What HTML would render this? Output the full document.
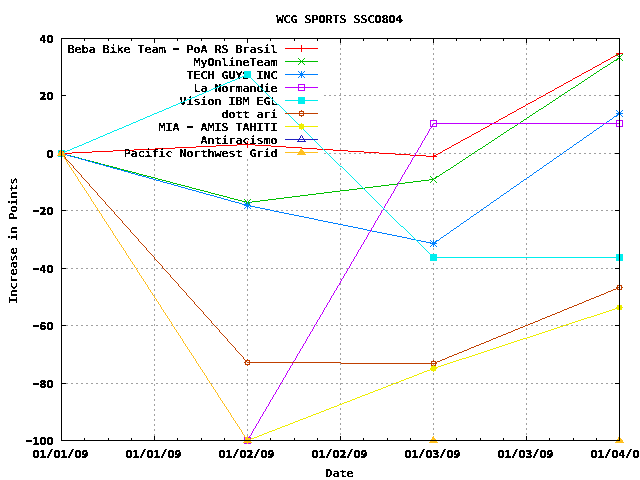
<!DOCTYPE html>
<html lang="en"><head><meta charset="utf-8"><title>WCG SPORTS SSC0804</title>
<style>
html,body{margin:0;padding:0;background:#fff;overflow:hidden}
svg{display:block}
text{font-family:"DejaVu Sans Mono", "Liberation Mono", monospace;font-size:12.5px;font-weight:bold;letter-spacing:-0.526px;fill:#000;white-space:pre}
.n{font-family:"DejaVu Sans Condensed","Liberation Sans Narrow","Liberation Sans",sans-serif;font-size:11px;letter-spacing:0;stroke:#000;stroke-width:.3px}
.ns{font-family:"DejaVu Sans Mono", "Liberation Mono", monospace;font-size:11.2px;stroke-width:.7px}
.nh{font-family:"DejaVu Sans Mono", "Liberation Mono", monospace;font-weight:normal;font-size:23px;stroke:none}
.td{font-family:"DejaVu Sans Condensed","Liberation Sans Narrow","Liberation Sans",sans-serif;font-size:11.8px;stroke:#000;stroke-width:.2px}
.ce{shape-rendering:crispEdges}
</style></head><body>
<svg width="640" height="480" viewBox="0 0 640 480">
<defs><filter id="th" x="0" y="0" width="100%" height="100%" filterUnits="userSpaceOnUse" color-interpolation-filters="sRGB"><feComponentTransfer><feFuncA type="discrete" tableValues="0 1"/></feComponentTransfer></filter></defs>
<rect width="640" height="480" fill="#fff"/>
<g class="ce"><path d="M324 95.5H620M324 153.5H620M61 210.5H620M61 268.5H620M61 325.5H620M61 383.5H620M154.5 159V441M247.5 159V441M340.5 38V441M433.5 38V441M526.5 38V441" stroke="#a0a0a0" stroke-width="1" stroke-dasharray="2 3" fill="none"/></g>
<g class="ce" fill="#000"><rect x="61" y="38" width="5" height="1" fill="#000"/><rect x="615" y="38" width="5" height="1" fill="#000"/><rect x="61" y="95" width="5" height="1" fill="#000"/><rect x="615" y="95" width="5" height="1" fill="#000"/><rect x="61" y="153" width="5" height="1" fill="#000"/><rect x="615" y="153" width="5" height="1" fill="#000"/><rect x="61" y="210" width="5" height="1" fill="#000"/><rect x="615" y="210" width="5" height="1" fill="#000"/><rect x="61" y="268" width="5" height="1" fill="#000"/><rect x="615" y="268" width="5" height="1" fill="#000"/><rect x="61" y="325" width="5" height="1" fill="#000"/><rect x="615" y="325" width="5" height="1" fill="#000"/><rect x="61" y="383" width="5" height="1" fill="#000"/><rect x="615" y="383" width="5" height="1" fill="#000"/><rect x="61" y="440" width="5" height="1" fill="#000"/><rect x="615" y="440" width="5" height="1" fill="#000"/><rect x="61" y="38" width="1" height="5" fill="#000"/><rect x="61" y="436" width="1" height="5" fill="#000"/><rect x="84" y="38" width="1" height="3" fill="#000"/><rect x="84" y="438" width="1" height="3" fill="#000"/><rect x="108" y="38" width="1" height="3" fill="#000"/><rect x="108" y="438" width="1" height="3" fill="#000"/><rect x="131" y="38" width="1" height="3" fill="#000"/><rect x="131" y="438" width="1" height="3" fill="#000"/><rect x="154" y="38" width="1" height="5" fill="#000"/><rect x="154" y="436" width="1" height="5" fill="#000"/><rect x="177" y="38" width="1" height="3" fill="#000"/><rect x="177" y="438" width="1" height="3" fill="#000"/><rect x="201" y="38" width="1" height="3" fill="#000"/><rect x="201" y="438" width="1" height="3" fill="#000"/><rect x="224" y="38" width="1" height="3" fill="#000"/><rect x="224" y="438" width="1" height="3" fill="#000"/><rect x="247" y="38" width="1" height="5" fill="#000"/><rect x="247" y="436" width="1" height="5" fill="#000"/><rect x="270" y="38" width="1" height="3" fill="#000"/><rect x="270" y="438" width="1" height="3" fill="#000"/><rect x="294" y="38" width="1" height="3" fill="#000"/><rect x="294" y="438" width="1" height="3" fill="#000"/><rect x="317" y="38" width="1" height="3" fill="#000"/><rect x="317" y="438" width="1" height="3" fill="#000"/><rect x="340" y="38" width="1" height="5" fill="#000"/><rect x="340" y="436" width="1" height="5" fill="#000"/><rect x="363" y="38" width="1" height="3" fill="#000"/><rect x="363" y="438" width="1" height="3" fill="#000"/><rect x="387" y="38" width="1" height="3" fill="#000"/><rect x="387" y="438" width="1" height="3" fill="#000"/><rect x="410" y="38" width="1" height="3" fill="#000"/><rect x="410" y="438" width="1" height="3" fill="#000"/><rect x="433" y="38" width="1" height="5" fill="#000"/><rect x="433" y="436" width="1" height="5" fill="#000"/><rect x="456" y="38" width="1" height="3" fill="#000"/><rect x="456" y="438" width="1" height="3" fill="#000"/><rect x="480" y="38" width="1" height="3" fill="#000"/><rect x="480" y="438" width="1" height="3" fill="#000"/><rect x="503" y="38" width="1" height="3" fill="#000"/><rect x="503" y="438" width="1" height="3" fill="#000"/><rect x="526" y="38" width="1" height="5" fill="#000"/><rect x="526" y="436" width="1" height="5" fill="#000"/><rect x="549" y="38" width="1" height="3" fill="#000"/><rect x="549" y="438" width="1" height="3" fill="#000"/><rect x="573" y="38" width="1" height="3" fill="#000"/><rect x="573" y="438" width="1" height="3" fill="#000"/><rect x="596" y="38" width="1" height="3" fill="#000"/><rect x="596" y="438" width="1" height="3" fill="#000"/><rect x="619" y="38" width="1" height="5" fill="#000"/><rect x="619" y="436" width="1" height="5" fill="#000"/></g>
<g><g filter="url(#th)"><text x="277.3" y="60.23" text-anchor="end" transform="scale(1 0.88)">Beba Bike Team <tspan dx="-2.02" dy="0.21" style="font-size:18.5px;letter-spacing:-4.14px">-</tspan><tspan dx="2.02" dy="-0.21"> PoA RS Brasil</tspan></text></g><g class="ce"><rect x="285" y="48" width="33" height="1" fill="#ff0000"/><rect x="298" y="48" width="7" height="1" fill="#ff0000"/><rect x="301" y="45" width="1" height="7" fill="#ff0000"/><path d="M61 153.5h11m0 -1h20m0 -1h21m0 -1h21m0 -1h21m0 -1h20m0 -1h21m0 -1h20m0 -1h21m0 -1h11M247 144.5h8m0 1h16m0 1h15m0 1h16m0 1h15m0 1h16m0 1h15m0 1h16m0 1h15m0 1h16m0 1h15m0 1h16m0 1h8M433 156.5h1m0 -1h2m0 -1h2m0 -1h2m0 -1h2m0 -1h1m0 -1h2m0 -1h2m0 -1h2m0 -1h2m0 -1h1m0 -1h2m0 -1h2m0 -1h2m0 -1h2m0 -1h1m0 -1h2m0 -1h2m0 -1h2m0 -1h2m0 -1h2m0 -1h1m0 -1h2m0 -1h2m0 -1h2m0 -1h2m0 -1h1m0 -1h2m0 -1h2m0 -1h2m0 -1h2m0 -1h1m0 -1h2m0 -1h2m0 -1h2m0 -1h2m0 -1h1m0 -1h2m0 -1h2m0 -1h2m0 -1h2m0 -1h1m0 -1h2m0 -1h2m0 -1h2m0 -1h2m0 -1h1m0 -1h2m0 -1h2m0 -1h2m0 -1h2m0 -1h1m0 -1h2m0 -1h2m0 -1h2m0 -1h2m0 -1h2m0 -1h1m0 -1h2m0 -1h2m0 -1h2m0 -1h2m0 -1h1m0 -1h2m0 -1h2m0 -1h2m0 -1h2m0 -1h1m0 -1h2m0 -1h2m0 -1h2m0 -1h2m0 -1h1m0 -1h2m0 -1h2m0 -1h2m0 -1h2m0 -1h1m0 -1h2m0 -1h2m0 -1h2m0 -1h2m0 -1h1m0 -1h2m0 -1h2m0 -1h2m0 -1h2m0 -1h2m0 -1h1m0 -1h2m0 -1h2m0 -1h2m0 -1h2m0 -1h1m0 -1h2m0 -1h2m0 -1h2m0 -1h2m0 -1h1m0 -1h2m0 -1h2m0 -1h2m0 -1h2m0 -1h1" stroke="#ff0000" stroke-width="1" fill="none"/><rect x="58" y="153" width="7" height="1" fill="#ff0000"/><rect x="61" y="150" width="1" height="7" fill="#ff0000"/><rect x="244" y="144" width="7" height="1" fill="#ff0000"/><rect x="247" y="141" width="1" height="7" fill="#ff0000"/><rect x="430" y="156" width="7" height="1" fill="#ff0000"/><rect x="433" y="153" width="1" height="7" fill="#ff0000"/><rect x="616" y="53" width="7" height="1" fill="#ff0000"/><rect x="619" y="50" width="1" height="7" fill="#ff0000"/></g></g>
<g><g filter="url(#th)"><text x="277.3" y="75" text-anchor="end" transform="scale(1 0.88)">MyOnlineTeam</text></g><g class="ce"><rect x="285" y="61" width="33" height="1" fill="#00c000"/><path d="M298.0 58.0L305.0 65.0M298.0 65.0L305.0 58.0" stroke="#00c000" stroke-width="1" fill="none"/><path d="M61 153.5h2m0 1h4m0 1h4m0 1h4m0 1h4m0 1h3m0 1h4m0 1h4m0 1h4m0 1h4m0 1h3m0 1h4m0 1h4m0 1h4m0 1h4m0 1h3m0 1h4m0 1h4m0 1h4m0 1h4m0 1h3m0 1h4m0 1h4m0 1h4m0 1h4m0 1h3m0 1h4m0 1h4m0 1h4m0 1h3m0 1h4m0 1h4m0 1h4m0 1h4m0 1h3m0 1h4m0 1h4m0 1h4m0 1h4m0 1h3m0 1h4m0 1h4m0 1h4m0 1h4m0 1h3m0 1h4m0 1h4m0 1h4m0 1h4m0 1h2M247 202.5h5m0 -1h8m0 -1h8m0 -1h8m0 -1h8m0 -1h8m0 -1h8m0 -1h8m0 -1h8m0 -1h8m0 -1h8m0 -1h8m0 -1h9m0 -1h8m0 -1h8m0 -1h8m0 -1h8m0 -1h8m0 -1h8m0 -1h8m0 -1h8m0 -1h8m0 -1h8m0 -1h5M433 179.5h1m0 -1h2m0 -1h1m0 -1h2m0 -1h1m0 -1h2m0 -1h1m0 -1h2m0 -1h1m0 -1h2m0 -1h2m0 -1h1m0 -1h2m0 -1h1m0 -1h2m0 -1h1m0 -1h2m0 -1h1m0 -1h2m0 -1h1m0 -1h2m0 -1h1m0 -1h2m0 -1h1m0 -1h2m0 -1h1m0 -1h2m0 -1h1m0 -1h2m0 -1h1m0 -1h2m0 -1h2m0 -1h1m0 -1h2m0 -1h1m0 -1h2m0 -1h1m0 -1h2m0 -1h1m0 -1h2m0 -1h1m0 -1h2m0 -1h1m0 -1h2m0 -1h1m0 -1h2m0 -1h1m0 -1h2m0 -1h1m0 -1h2m0 -1h1m0 -1h2m0 -1h2m0 -1h1m0 -1h2m0 -1h1m0 -1h2m0 -1h1m0 -1h2m0 -1h1m0 -1h2m0 -1h1m0 -1h2m0 -1h1m0 -1h2m0 -1h1m0 -1h2m0 -1h1m0 -1h2m0 -1h1m0 -1h2m0 -1h2m0 -1h1m0 -1h2m0 -1h1m0 -1h2m0 -1h1m0 -1h2m0 -1h1m0 -1h2m0 -1h1m0 -1h2m0 -1h1m0 -1h2m0 -1h1m0 -1h2m0 -1h1m0 -1h2m0 -1h1m0 -1h2m0 -1h1m0 -1h2m0 -1h2m0 -1h1m0 -1h2m0 -1h1m0 -1h2m0 -1h1m0 -1h2m0 -1h1m0 -1h2m0 -1h1m0 -1h2m0 -1h1m0 -1h2m0 -1h1m0 -1h2m0 -1h1m0 -1h2m0 -1h1m0 -1h2m0 -1h1m0 -1h2m0 -1h2m0 -1h1m0 -1h2m0 -1h1m0 -1h2m0 -1h1m0 -1h2m0 -1h1m0 -1h2m0 -1h1" stroke="#00c000" stroke-width="1" fill="none"/><path d="M58.0 150.0L65.0 157.0M58.0 157.0L65.0 150.0" stroke="#00c000" stroke-width="1" fill="none"/><path d="M244.0 199.0L251.0 206.0M244.0 206.0L251.0 199.0" stroke="#00c000" stroke-width="1" fill="none"/><path d="M430.0 176.0L437.0 183.0M430.0 183.0L437.0 176.0" stroke="#00c000" stroke-width="1" fill="none"/><path d="M616.0 54.0L623.0 61.0M616.0 61.0L623.0 54.0" stroke="#00c000" stroke-width="1" fill="none"/></g></g>
<g><g filter="url(#th)"><text x="277.3" y="89.77" text-anchor="end" transform="scale(1 0.88)">TECH GUYS INC</text></g><g class="ce"><rect x="285" y="74" width="33" height="1" fill="#0080ff"/><rect x="298" y="74" width="7" height="1" fill="#0080ff"/><rect x="301" y="71" width="1" height="7" fill="#0080ff"/><path d="M298.0 71.0L305.0 78.0M298.0 78.0L305.0 71.0" stroke="#0080ff" stroke-width="1" fill="none"/><path d="M61 153.5h2m0 1h4m0 1h3m0 1h4m0 1h4m0 1h3m0 1h4m0 1h3m0 1h4m0 1h3m0 1h4m0 1h4m0 1h3m0 1h4m0 1h3m0 1h4m0 1h4m0 1h3m0 1h4m0 1h3m0 1h4m0 1h3m0 1h4m0 1h4m0 1h3m0 1h4m0 1h3m0 1h4m0 1h3m0 1h4m0 1h4m0 1h3m0 1h4m0 1h3m0 1h4m0 1h3m0 1h4m0 1h4m0 1h3m0 1h4m0 1h3m0 1h4m0 1h4m0 1h3m0 1h4m0 1h3m0 1h4m0 1h3m0 1h4m0 1h4m0 1h3m0 1h4m0 1h2M247 205.5h3m0 1h5m0 1h5m0 1h5m0 1h5m0 1h4m0 1h5m0 1h5m0 1h5m0 1h5m0 1h5m0 1h5m0 1h5m0 1h5m0 1h4m0 1h5m0 1h5m0 1h5m0 1h5m0 1h5m0 1h5m0 1h5m0 1h5m0 1h5m0 1h4m0 1h5m0 1h5m0 1h5m0 1h5m0 1h5m0 1h5m0 1h5m0 1h5m0 1h4m0 1h5m0 1h5m0 1h5m0 1h5m0 1h3M433 243.5h1m0 -1h2m0 -1h1m0 -1h2m0 -1h1m0 -1h1m0 -1h2m0 -1h1m0 -1h2m0 -1h1m0 -1h2m0 -1h1m0 -1h1m0 -1h2m0 -1h1m0 -1h2m0 -1h1m0 -1h2m0 -1h1m0 -1h1m0 -1h2m0 -1h1m0 -1h2m0 -1h1m0 -1h2m0 -1h1m0 -1h1m0 -1h2m0 -1h1m0 -1h2m0 -1h1m0 -1h2m0 -1h1m0 -1h1m0 -1h2m0 -1h1m0 -1h2m0 -1h1m0 -1h2m0 -1h1m0 -1h1m0 -1h2m0 -1h1m0 -1h2m0 -1h1m0 -1h2m0 -1h1m0 -1h1m0 -1h2m0 -1h1m0 -1h2m0 -1h1m0 -1h2m0 -1h1m0 -1h1m0 -1h2m0 -1h1m0 -1h2m0 -1h1m0 -1h2m0 -1h1m0 -1h1m0 -1h2m0 -1h1m0 -1h2m0 -1h1m0 -1h2m0 -1h1m0 -1h2m0 -1h1m0 -1h1m0 -1h2m0 -1h1m0 -1h2m0 -1h1m0 -1h2m0 -1h1m0 -1h1m0 -1h2m0 -1h1m0 -1h2m0 -1h1m0 -1h2m0 -1h1m0 -1h1m0 -1h2m0 -1h1m0 -1h2m0 -1h1m0 -1h2m0 -1h1m0 -1h1m0 -1h2m0 -1h1m0 -1h2m0 -1h1m0 -1h2m0 -1h1m0 -1h1m0 -1h2m0 -1h1m0 -1h2m0 -1h1m0 -1h2m0 -1h1m0 -1h1m0 -1h2m0 -1h1m0 -1h2m0 -1h1m0 -1h2m0 -1h1m0 -1h1m0 -1h2m0 -1h1m0 -1h2m0 -1h1m0 -1h2m0 -1h1m0 -1h1m0 -1h2m0 -1h1m0 -1h2m0 -1h1m0 -1h2m0 -1h1m0 -1h1m0 -1h2m0 -1h1m0 -1h2m0 -1h1" stroke="#0080ff" stroke-width="1" fill="none"/><rect x="58" y="153" width="7" height="1" fill="#0080ff"/><rect x="61" y="150" width="1" height="7" fill="#0080ff"/><path d="M58.0 150.0L65.0 157.0M58.0 157.0L65.0 150.0" stroke="#0080ff" stroke-width="1" fill="none"/><rect x="244" y="205" width="7" height="1" fill="#0080ff"/><rect x="247" y="202" width="1" height="7" fill="#0080ff"/><path d="M244.0 202.0L251.0 209.0M244.0 209.0L251.0 202.0" stroke="#0080ff" stroke-width="1" fill="none"/><rect x="430" y="243" width="7" height="1" fill="#0080ff"/><rect x="433" y="240" width="1" height="7" fill="#0080ff"/><path d="M430.0 240.0L437.0 247.0M430.0 247.0L437.0 240.0" stroke="#0080ff" stroke-width="1" fill="none"/><rect x="616" y="113" width="7" height="1" fill="#0080ff"/><rect x="619" y="110" width="1" height="7" fill="#0080ff"/><path d="M616.0 110.0L623.0 117.0M616.0 117.0L623.0 110.0" stroke="#0080ff" stroke-width="1" fill="none"/></g></g>
<g><g filter="url(#th)"><text x="277.3" y="104.55" text-anchor="end" transform="scale(1 0.88)">La Normandie</text></g><g class="ce"><rect x="285" y="87" width="33" height="1" fill="#c000ff"/><rect x="298.5" y="84.5" width="6" height="6" fill="none" stroke="#c000ff" stroke-width="1"/><path d="M433.5 123v1m-1 0v2m-1 0v2m-1 0v1m-1 0v2m-1 0v2m-1 0v2m-1 0v1m-1 0v2m-1 0v2m-1 0v1m-1 0v2m-1 0v2m-1 0v2m-1 0v1m-1 0v2m-1 0v2m-1 0v1m-1 0v2m-1 0v2m-1 0v1m-1 0v2m-1 0v2m-1 0v2m-1 0v1m-1 0v2m-1 0v2m-1 0v1m-1 0v2m-1 0v2m-1 0v1m-1 0v2m-1 0v2m-1 0v2m-1 0v1m-1 0v2m-1 0v2m-1 0v1m-1 0v2m-1 0v2m-1 0v2m-1 0v1m-1 0v2m-1 0v2m-1 0v1m-1 0v2m-1 0v2m-1 0v1m-1 0v2m-1 0v2m-1 0v2m-1 0v1m-1 0v2m-1 0v2m-1 0v1m-1 0v2m-1 0v2m-1 0v1m-1 0v2m-1 0v2m-1 0v2m-1 0v1m-1 0v2m-1 0v2m-1 0v1m-1 0v2m-1 0v2m-1 0v2m-1 0v1m-1 0v2m-1 0v2m-1 0v1m-1 0v2m-1 0v2m-1 0v1m-1 0v2m-1 0v2m-1 0v2m-1 0v1m-1 0v2m-1 0v2m-1 0v1m-1 0v2m-1 0v2m-1 0v2m-1 0v1m-1 0v2m-1 0v2m-1 0v1m-1 0v2m-1 0v2m-1 0v1m-1 0v2m-1 0v2m-1 0v2m-1 0v1m-1 0v2m-1 0v2m-1 0v1m-1 0v2m-1 0v2m-1 0v1m-1 0v2m-1 0v2m-1 0v2m-1 0v1m-1 0v2m-1 0v2m-1 0v1m-1 0v2m-1 0v2m-1 0v2m-1 0v1m-1 0v2m-1 0v2m-1 0v1m-1 0v2m-1 0v2m-1 0v1m-1 0v2m-1 0v2m-1 0v2m-1 0v1m-1 0v2m-1 0v2m-1 0v1m-1 0v2m-1 0v2m-1 0v2m-1 0v1m-1 0v2m-1 0v2m-1 0v1m-1 0v2m-1 0v2m-1 0v1m-1 0v2m-1 0v2m-1 0v2m-1 0v1m-1 0v2m-1 0v2m-1 0v1m-1 0v2m-1 0v2m-1 0v1m-1 0v2m-1 0v2m-1 0v2m-1 0v1m-1 0v2m-1 0v2m-1 0v1m-1 0v2m-1 0v2m-1 0v2m-1 0v1m-1 0v2m-1 0v2m-1 0v1m-1 0v2m-1 0v2m-1 0v1m-1 0v2m-1 0v2m-1 0v2m-1 0v1m-1 0v2m-1 0v2m-1 0v1m-1 0v2m-1 0v2m-1 0v1m-1 0v2m-1 0v2m-1 0v2m-1 0v1m-1 0v2m-1 0v2m-1 0v1m-1 0v2m-1 0v2m-1 0v2m-1 0v1m-1 0v2m-1 0v2m-1 0v1M433 123.5h187" stroke="#c000ff" stroke-width="1" fill="none"/><rect x="244.5" y="437.5" width="6" height="6" fill="none" stroke="#c000ff" stroke-width="1"/><rect x="430.5" y="120.5" width="6" height="6" fill="none" stroke="#c000ff" stroke-width="1"/><rect x="616.5" y="120.5" width="6" height="6" fill="none" stroke="#c000ff" stroke-width="1"/></g></g>
<g><g filter="url(#th)"><text x="277.3" y="119.32" text-anchor="end" transform="scale(1 0.88)">Vision IBM EGL</text></g><g class="ce"><rect x="285" y="100" width="33" height="1" fill="#00eeee"/><rect x="298" y="97" width="7" height="7" fill="#00eeee"/><path d="M61 153.5h2m0 -1h2m0 -1h2m0 -1h3m0 -1h2m0 -1h2m0 -1h3m0 -1h2m0 -1h3m0 -1h2m0 -1h2m0 -1h3m0 -1h2m0 -1h2m0 -1h3m0 -1h2m0 -1h2m0 -1h3m0 -1h2m0 -1h2m0 -1h3m0 -1h2m0 -1h2m0 -1h3m0 -1h2m0 -1h3m0 -1h2m0 -1h2m0 -1h3m0 -1h2m0 -1h2m0 -1h3m0 -1h2m0 -1h2m0 -1h3m0 -1h2m0 -1h2m0 -1h3m0 -1h2m0 -1h2m0 -1h3m0 -1h2m0 -1h3m0 -1h2m0 -1h2m0 -1h3m0 -1h2m0 -1h2m0 -1h3m0 -1h2m0 -1h2m0 -1h3m0 -1h2m0 -1h2m0 -1h3m0 -1h2m0 -1h3m0 -1h2m0 -1h2m0 -1h3m0 -1h2m0 -1h2m0 -1h3m0 -1h2m0 -1h2m0 -1h3m0 -1h2m0 -1h2m0 -1h3m0 -1h2m0 -1h2m0 -1h3m0 -1h2m0 -1h3m0 -1h2m0 -1h2m0 -1h3m0 -1h2m0 -1h2m0 -1h2M247 74.5h1m0 1h1m0 1h1m0 1h1m0 1h1m0 1h1m0 1h1m0 1h1m0 1h1m0 1h1m0 1h1m0 1h1m0 1h1m0 1h1m0 1h1m0 1h1m0 1h1m0 1h1m0 1h1m0 1h1m0 1h1m0 1h1m0 1h1m0 1h1m0 1h1m0 1h1m0 1h1m0 1h1m0 1h1m0 1h1m0 1h2m0 1h1m0 1h1m0 1h1m0 1h1m0 1h1m0 1h1m0 1h1m0 1h1m0 1h1m0 1h1m0 1h1m0 1h1m0 1h1m0 1h1m0 1h1m0 1h1m0 1h1m0 1h1m0 1h1m0 1h1m0 1h1m0 1h1m0 1h1m0 1h1m0 1h1m0 1h1m0 1h1m0 1h1m0 1h1m0 1h1m0 1h1m0 1h1m0 1h1m0 1h1m0 1h1m0 1h1m0 1h1m0 1h1m0 1h1m0 1h1m0 1h1m0 1h1m0 1h1m0 1h1m0 1h1m0 1h1m0 1h1m0 1h1m0 1h1m0 1h1m0 1h1m0 1h1m0 1h1m0 1h1m0 1h1m0 1h1m0 1h1m0 1h1m0 1h1m0 1h1m0 1h1m0 1h2m0 1h1m0 1h1m0 1h1m0 1h1m0 1h1m0 1h1m0 1h1m0 1h1m0 1h1m0 1h1m0 1h1m0 1h1m0 1h1m0 1h1m0 1h1m0 1h1m0 1h1m0 1h1m0 1h1m0 1h1m0 1h1m0 1h1m0 1h1m0 1h1m0 1h1m0 1h1m0 1h1m0 1h1m0 1h1m0 1h1m0 1h1m0 1h1m0 1h1m0 1h1m0 1h1m0 1h1m0 1h1m0 1h1m0 1h1m0 1h1m0 1h1m0 1h1m0 1h1m0 1h1m0 1h1m0 1h1m0 1h1m0 1h1m0 1h1m0 1h1m0 1h1m0 1h1m0 1h1m0 1h1m0 1h1m0 1h1m0 1h1m0 1h1m0 1h1m0 1h2m0 1h1m0 1h1m0 1h1m0 1h1m0 1h1m0 1h1m0 1h1m0 1h1m0 1h1m0 1h1m0 1h1m0 1h1m0 1h1m0 1h1m0 1h1m0 1h1m0 1h1m0 1h1m0 1h1m0 1h1m0 1h1m0 1h1m0 1h1m0 1h1m0 1h1m0 1h1m0 1h1m0 1h1m0 1h1m0 1h1m0 1h1M433 257.5h187" stroke="#00eeee" stroke-width="1" fill="none"/><rect x="58" y="150" width="7" height="7" fill="#00eeee"/><rect x="244" y="71" width="7" height="7" fill="#00eeee"/><rect x="430" y="254" width="7" height="7" fill="#00eeee"/><rect x="616" y="254" width="7" height="7" fill="#00eeee"/></g></g>
<g><g filter="url(#th)"><text x="277.3" y="134.09" text-anchor="end" transform="scale(1 0.88)">dott ari</text></g><g class="ce"><rect x="285" y="113" width="33" height="1" fill="#c04000"/><rect x="299.5" y="111.5" width="4" height="4" fill="none" stroke="#c04000" stroke-width="1"/><path d="M301 110h1v1h-1zM301 116h1v1h-1zM298 113h1v1h-1zM304 113h1v1h-1z" fill="#c04000"/><path d="M61.5 153v1m1 0v1m1 0v1m1 0v1m1 0v2m1 0v1m1 0v1m1 0v1m1 0v1m1 0v1m1 0v1m1 0v1m1 0v2m1 0v1m1 0v1m1 0v1m1 0v1m1 0v1m1 0v1m1 0v1m1 0v2m1 0v1m1 0v1m1 0v1m1 0v1m1 0v1m1 0v1m1 0v1m1 0v2m1 0v1m1 0v1m1 0v1m1 0v1m1 0v1m1 0v1m1 0v1m1 0v2m1 0v1m1 0v1m1 0v1m1 0v1m1 0v1m1 0v1m1 0v1m1 0v2m1 0v1m1 0v1m1 0v1m1 0v1m1 0v1m1 0v1m1 0v1m1 0v1m1 0v2m1 0v1m1 0v1m1 0v1m1 0v1m1 0v1m1 0v1m1 0v1m1 0v2m1 0v1m1 0v1m1 0v1m1 0v1m1 0v1m1 0v1m1 0v1m1 0v2m1 0v1m1 0v1m1 0v1m1 0v1m1 0v1m1 0v1m1 0v1m1 0v2m1 0v1m1 0v1m1 0v1m1 0v1m1 0v1m1 0v1m1 0v1m1 0v2m1 0v1m1 0v1m1 0v1m1 0v1m1 0v1m1 0v1m1 0v1m1 0v2m1 0v1m1 0v1m1 0v1m1 0v1m1 0v1m1 0v1m1 0v1m1 0v2m1 0v1m1 0v1m1 0v1m1 0v1m1 0v1m1 0v1m1 0v1m1 0v2m1 0v1m1 0v1m1 0v1m1 0v1m1 0v1m1 0v1m1 0v1m1 0v2m1 0v1m1 0v1m1 0v1m1 0v1m1 0v1m1 0v1m1 0v1m1 0v2m1 0v1m1 0v1m1 0v1m1 0v1m1 0v1m1 0v1m1 0v1m1 0v2m1 0v1m1 0v1m1 0v1m1 0v1m1 0v1m1 0v1m1 0v1m1 0v1m1 0v2m1 0v1m1 0v1m1 0v1m1 0v1m1 0v1m1 0v1m1 0v1m1 0v2m1 0v1m1 0v1m1 0v1m1 0v1m1 0v1m1 0v1m1 0v1m1 0v2m1 0v1m1 0v1m1 0v1m1 0v1m1 0v1m1 0v1m1 0v1m1 0v2m1 0v1m1 0v1m1 0v1m1 0v1m1 0v1m1 0v1m1 0v1m1 0v2m1 0v1m1 0v1m1 0v1m1 0v1m1 0v1m1 0v1m1 0v1m1 0v2m1 0v1m1 0v1m1 0v1m1 0v1M247 362.5h94m0 1h93M433 363.5h2m0 -1h2m0 -1h3m0 -1h2m0 -1h3m0 -1h2m0 -1h2m0 -1h3m0 -1h2m0 -1h3m0 -1h2m0 -1h3m0 -1h2m0 -1h3m0 -1h2m0 -1h2m0 -1h3m0 -1h2m0 -1h3m0 -1h2m0 -1h3m0 -1h2m0 -1h3m0 -1h2m0 -1h2m0 -1h3m0 -1h2m0 -1h3m0 -1h2m0 -1h3m0 -1h2m0 -1h3m0 -1h2m0 -1h2m0 -1h3m0 -1h2m0 -1h3m0 -1h2m0 -1h3m0 -1h2m0 -1h3m0 -1h2m0 -1h3m0 -1h2m0 -1h2m0 -1h3m0 -1h2m0 -1h3m0 -1h2m0 -1h3m0 -1h2m0 -1h3m0 -1h2m0 -1h2m0 -1h3m0 -1h2m0 -1h3m0 -1h2m0 -1h3m0 -1h2m0 -1h3m0 -1h2m0 -1h2m0 -1h3m0 -1h2m0 -1h3m0 -1h2m0 -1h3m0 -1h2m0 -1h3m0 -1h2m0 -1h2m0 -1h3m0 -1h2m0 -1h3m0 -1h2m0 -1h2" stroke="#c04000" stroke-width="1" fill="none"/><rect x="59.5" y="151.5" width="4" height="4" fill="none" stroke="#c04000" stroke-width="1"/><path d="M61 150h1v1h-1zM61 156h1v1h-1zM58 153h1v1h-1zM64 153h1v1h-1z" fill="#c04000"/><rect x="245.5" y="360.5" width="4" height="4" fill="none" stroke="#c04000" stroke-width="1"/><path d="M247 359h1v1h-1zM247 365h1v1h-1zM244 362h1v1h-1zM250 362h1v1h-1z" fill="#c04000"/><rect x="431.5" y="361.5" width="4" height="4" fill="none" stroke="#c04000" stroke-width="1"/><path d="M433 360h1v1h-1zM433 366h1v1h-1zM430 363h1v1h-1zM436 363h1v1h-1z" fill="#c04000"/><rect x="617.5" y="285.5" width="4" height="4" fill="none" stroke="#c04000" stroke-width="1"/><path d="M619 284h1v1h-1zM619 290h1v1h-1zM616 287h1v1h-1zM622 287h1v1h-1z" fill="#c04000"/></g></g>
<g><g filter="url(#th)"><text x="277.3" y="148.86" text-anchor="end" transform="scale(1 0.88)">MIA <tspan dx="-2.02" dy="0.21" style="font-size:18.5px;letter-spacing:-4.14px">-</tspan><tspan dx="2.02" dy="-0.21"> AMIS TAHITI</tspan></text></g><g class="ce"><rect x="285" y="126" width="33" height="1" fill="#eeee00"/><rect x="299" y="124" width="5" height="5" fill="#eeee00"/><path d="M301 123h1v7h-1zM298 126h7v1h-7z" fill="#eeee00"/><path d="M247 440.5h2m0 -1h2m0 -1h3m0 -1h3m0 -1h2m0 -1h3m0 -1h2m0 -1h3m0 -1h2m0 -1h3m0 -1h3m0 -1h2m0 -1h3m0 -1h2m0 -1h3m0 -1h3m0 -1h2m0 -1h3m0 -1h2m0 -1h3m0 -1h2m0 -1h3m0 -1h3m0 -1h2m0 -1h3m0 -1h2m0 -1h3m0 -1h3m0 -1h2m0 -1h3m0 -1h2m0 -1h3m0 -1h2m0 -1h3m0 -1h3m0 -1h2m0 -1h3m0 -1h2m0 -1h3m0 -1h3m0 -1h2m0 -1h3m0 -1h2m0 -1h3m0 -1h2m0 -1h3m0 -1h3m0 -1h2m0 -1h3m0 -1h2m0 -1h3m0 -1h3m0 -1h2m0 -1h3m0 -1h2m0 -1h3m0 -1h2m0 -1h3m0 -1h3m0 -1h2m0 -1h3m0 -1h2m0 -1h3m0 -1h3m0 -1h2m0 -1h3m0 -1h2m0 -1h3m0 -1h2m0 -1h3m0 -1h3m0 -1h2m0 -1h2M433 368.5h2m0 -1h3m0 -1h3m0 -1h3m0 -1h3m0 -1h3m0 -1h3m0 -1h3m0 -1h3m0 -1h3m0 -1h4m0 -1h3m0 -1h3m0 -1h3m0 -1h3m0 -1h3m0 -1h3m0 -1h3m0 -1h3m0 -1h3m0 -1h3m0 -1h3m0 -1h3m0 -1h3m0 -1h3m0 -1h3m0 -1h3m0 -1h3m0 -1h3m0 -1h3m0 -1h4m0 -1h3m0 -1h3m0 -1h3m0 -1h3m0 -1h3m0 -1h3m0 -1h3m0 -1h3m0 -1h3m0 -1h3m0 -1h3m0 -1h3m0 -1h3m0 -1h3m0 -1h3m0 -1h3m0 -1h3m0 -1h3m0 -1h3m0 -1h3m0 -1h4m0 -1h3m0 -1h3m0 -1h3m0 -1h3m0 -1h3m0 -1h3m0 -1h3m0 -1h3m0 -1h3m0 -1h2" stroke="#eeee00" stroke-width="1" fill="none"/><rect x="245" y="438" width="5" height="5" fill="#eeee00"/><path d="M247 437h1v7h-1zM244 440h7v1h-7z" fill="#eeee00"/><rect x="431" y="366" width="5" height="5" fill="#eeee00"/><path d="M433 365h1v7h-1zM430 368h7v1h-7z" fill="#eeee00"/><rect x="617" y="305" width="5" height="5" fill="#eeee00"/><path d="M619 304h1v7h-1zM616 307h7v1h-7z" fill="#eeee00"/></g></g>
<g><g filter="url(#th)"><text x="277.3" y="163.64" text-anchor="end" transform="scale(1 0.88)">Antiracismo</text></g><g class="ce"><rect x="285" y="139" width="33" height="1" fill="#2020c0"/><path d="M301.5 135.5L297.5 141.5L305.5 141.5Z" fill="none" stroke="#2020c0" stroke-width="1"/></g></g>
<g><g filter="url(#th)"><text x="277.3" y="178.41" text-anchor="end" transform="scale(1 0.88)">Pacific Northwest Grid</text></g><g class="ce"><rect x="285" y="152" width="33" height="1" fill="#ffc020"/><path d="M301.5 148.0L296.8 155.0L306.2 155.0Z" fill="#ffc020"/><path d="M61.5 153v1m1 0v2m1 0v1m1 0v2m1 0v1m1 0v2m1 0v2m1 0v1m1 0v2m1 0v1m1 0v2m1 0v1m1 0v2m1 0v1m1 0v2m1 0v1m1 0v2m1 0v2m1 0v1m1 0v2m1 0v1m1 0v2m1 0v1m1 0v2m1 0v1m1 0v2m1 0v1m1 0v2m1 0v1m1 0v2m1 0v2m1 0v1m1 0v2m1 0v1m1 0v2m1 0v1m1 0v2m1 0v1m1 0v2m1 0v1m1 0v2m1 0v2m1 0v1m1 0v2m1 0v1m1 0v2m1 0v1m1 0v2m1 0v1m1 0v2m1 0v1m1 0v2m1 0v2m1 0v1m1 0v2m1 0v1m1 0v2m1 0v1m1 0v2m1 0v1m1 0v2m1 0v1m1 0v2m1 0v1m1 0v2m1 0v2m1 0v1m1 0v2m1 0v1m1 0v2m1 0v1m1 0v2m1 0v1m1 0v2m1 0v1m1 0v2m1 0v2m1 0v1m1 0v2m1 0v1m1 0v2m1 0v1m1 0v2m1 0v1m1 0v2m1 0v1m1 0v2m1 0v2m1 0v1m1 0v2m1 0v1m1 0v2m1 0v1m1 0v2m1 0v1m1 0v2m1 0v1m1 0v2m1 0v1m1 0v2m1 0v2m1 0v1m1 0v2m1 0v1m1 0v2m1 0v1m1 0v2m1 0v1m1 0v2m1 0v1m1 0v2m1 0v2m1 0v1m1 0v2m1 0v1m1 0v2m1 0v1m1 0v2m1 0v1m1 0v2m1 0v1m1 0v2m1 0v2m1 0v1m1 0v2m1 0v1m1 0v2m1 0v1m1 0v2m1 0v1m1 0v2m1 0v1m1 0v2m1 0v1m1 0v2m1 0v2m1 0v1m1 0v2m1 0v1m1 0v2m1 0v1m1 0v2m1 0v1m1 0v2m1 0v1m1 0v2m1 0v2m1 0v1m1 0v2m1 0v1m1 0v2m1 0v1m1 0v2m1 0v1m1 0v2m1 0v1m1 0v2m1 0v2m1 0v1m1 0v2m1 0v1m1 0v2m1 0v1m1 0v2m1 0v1m1 0v2m1 0v1m1 0v2m1 0v1m1 0v2m1 0v2m1 0v1m1 0v2m1 0v1m1 0v2m1 0v1m1 0v2m1 0v1m1 0v2m1 0v1m1 0v2m1 0v2m1 0v1m1 0v2m1 0v1m1 0v2m1 0v1M247 440.5h187M433 440.5h187" stroke="#ffc020" stroke-width="1" fill="none"/><path d="M61.5 149.0L56.8 156.0L66.2 156.0Z" fill="#ffc020"/><path d="M247.5 436.0L242.8 443.0L252.2 443.0Z" fill="#ffc020"/><path d="M433.5 436.0L428.8 443.0L438.2 443.0Z" fill="#ffc020"/><path d="M619.5 436.0L614.8 443.0L624.2 443.0Z" fill="#ffc020"/></g></g>
<path class="ce" d="M61.5 38.5H619.5V440.5H61.5Z" fill="none" stroke="#000" stroke-width="1"/>
<g><g filter="url(#th)"><text x="276.3 283.3 290.3 297.3 304.3 311.3 318.3 325.3 332.3 339.3 346.3 353.3 360.3 367.3 374.49 381.49 388.49 395.49" y="26.14" style="letter-spacing:0" transform="scale(1 0.88)">WCG SPORTS SSC<tspan class="td">0804</tspan></text></g><g filter="url(#th)"><text class="n" x="39.55 46.55" y="43">40</text></g><g filter="url(#th)"><text class="n" x="39.55 46.55" y="100">20</text></g><g filter="url(#th)"><text class="n" x="46.55" y="158">0</text></g><g filter="url(#th)"><text class="n" x="29.1 39.55 46.55" y="215"><tspan class="nh" dy="1.80">-</tspan><tspan dy="-1.80">2</tspan>0</text></g><g filter="url(#th)"><text class="n" x="29.1 39.55 46.55" y="273"><tspan class="nh" dy="1.80">-</tspan><tspan dy="-1.80">4</tspan>0</text></g><g filter="url(#th)"><text class="n" x="29.1 39.55 46.55" y="330"><tspan class="nh" dy="1.80">-</tspan><tspan dy="-1.80">6</tspan>0</text></g><g filter="url(#th)"><text class="n" x="29.1 39.55 46.55" y="388"><tspan class="nh" dy="1.80">-</tspan><tspan dy="-1.80">8</tspan>0</text></g><g filter="url(#th)"><text class="n" x="22.1 32.55 39.55 46.55" y="445"><tspan class="nh" dy="1.80">-</tspan><tspan dy="-1.80">1</tspan>00</text></g><g filter="url(#th)"><text class="n" x="32.55 39.55 46.43 53.55 60.55 67.43 74.55 81.55" y="458">01<tspan class="ns" dy="-1.40">/</tspan><tspan dy="1.40">0</tspan>1<tspan class="ns" dy="-1.40">/</tspan><tspan dy="1.40">0</tspan>9</text></g><g filter="url(#th)"><text class="n" x="125.55 132.55 139.43 146.55 153.55 160.43 167.55 174.55" y="458">01<tspan class="ns" dy="-1.40">/</tspan><tspan dy="1.40">0</tspan>1<tspan class="ns" dy="-1.40">/</tspan><tspan dy="1.40">0</tspan>9</text></g><g filter="url(#th)"><text class="n" x="218.55 225.55 232.43 239.55 246.55 253.43 260.55 267.55" y="458">01<tspan class="ns" dy="-1.40">/</tspan><tspan dy="1.40">0</tspan>2<tspan class="ns" dy="-1.40">/</tspan><tspan dy="1.40">0</tspan>9</text></g><g filter="url(#th)"><text class="n" x="311.55 318.55 325.43 332.55 339.55 346.43 353.55 360.55" y="458">01<tspan class="ns" dy="-1.40">/</tspan><tspan dy="1.40">0</tspan>2<tspan class="ns" dy="-1.40">/</tspan><tspan dy="1.40">0</tspan>9</text></g><g filter="url(#th)"><text class="n" x="404.55 411.55 418.43 425.55 432.55 439.43 446.55 453.55" y="458">01<tspan class="ns" dy="-1.40">/</tspan><tspan dy="1.40">0</tspan>3<tspan class="ns" dy="-1.40">/</tspan><tspan dy="1.40">0</tspan>9</text></g><g filter="url(#th)"><text class="n" x="497.55 504.55 511.43 518.55 525.55 532.43 539.55 546.55" y="458">01<tspan class="ns" dy="-1.40">/</tspan><tspan dy="1.40">0</tspan>3<tspan class="ns" dy="-1.40">/</tspan><tspan dy="1.40">0</tspan>9</text></g><g filter="url(#th)"><text class="n" x="590.55 597.55 604.43 611.55 618.55 625.43 632.55 639.55" y="458">01<tspan class="ns" dy="-1.40">/</tspan><tspan dy="1.40">0</tspan>4<tspan class="ns" dy="-1.40">/</tspan><tspan dy="1.40">0</tspan>9</text></g><g filter="url(#th)"><text x="339.3" y="542.05" text-anchor="middle" transform="scale(1 0.88)">Date</text></g><g filter="url(#th)"><text text-anchor="middle" transform="translate(17 240.7) rotate(-90) scale(1 0.88)" x="0" y="0">Increase in Points</text></g></g>
</svg>
</body></html>
